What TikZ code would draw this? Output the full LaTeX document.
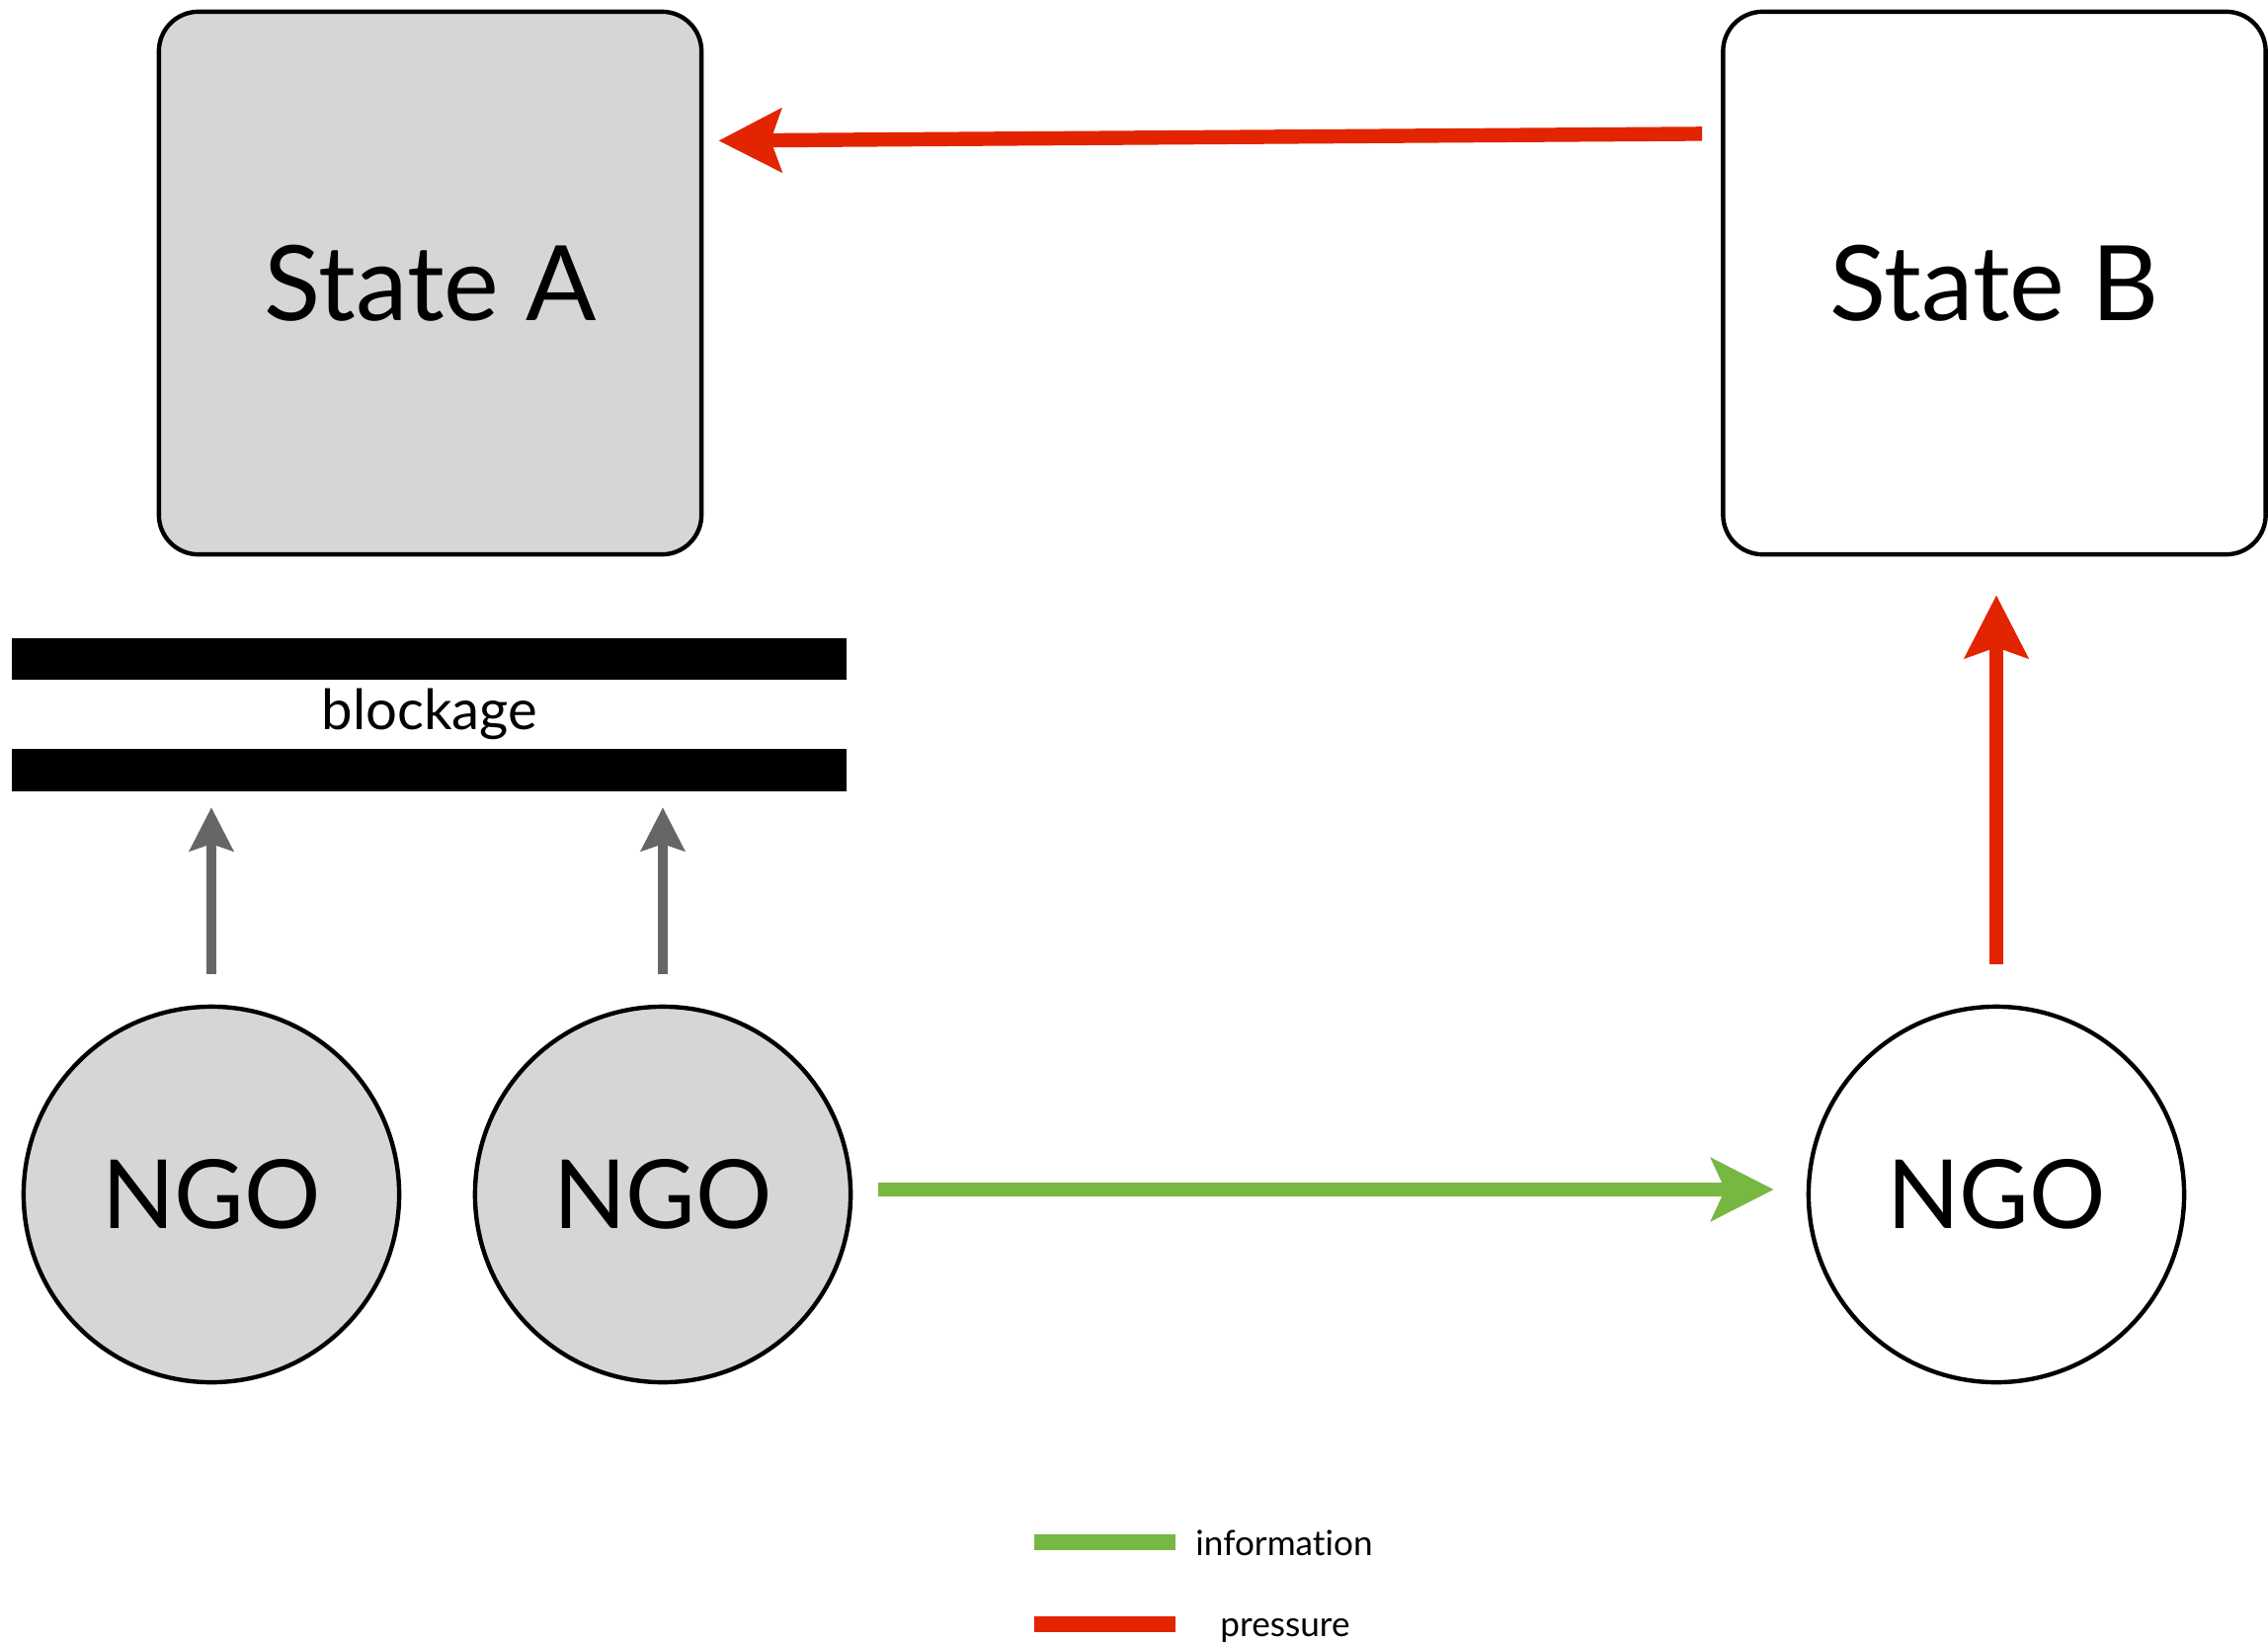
\documentclass[tikz,border=0pt]{standalone}
\usepackage{fontspec}
\setmainfont{Lato}[Ligatures={NoCommon}]
\usetikzlibrary{arrows.meta,positioning}

\definecolor{pressurered}{HTML}{E22400}
\definecolor{infogreen}{HTML}{77B843}
\definecolor{blockgray}{HTML}{666666}
\definecolor{ngofill}{HTML}{D6D6D6}

\tikzset{
    state/.style={draw,line width=1.25pt,rounded corners=0.4cm,
        minimum width=5.49cm,minimum height=5.49cm,font=\fontsize{30}{34}\selectfont},
    ngo/.style={draw,circle,line width=1.25pt,minimum size=3.8cm,inner sep=0pt,
        font=\fontsize{27.5}{30}\selectfont},
    bar/.style={fill=black,minimum width=8.45cm,minimum height=0.42cm,inner sep=0pt},
    pressure/.style={draw=pressurered,line width=4.1pt,
        -{Stealth[length=18pt,width=18pt,inset=3pt]}},
    information/.style={draw=infogreen,line width=4.1pt,
        -{Stealth[length=18pt,width=18pt,inset=4pt]}},
    attempt/.style={draw=blockgray,line width=2.6pt,
        -{Stealth[length=12.5pt,width=12.5pt,inset=2pt]}},
    legendline/.style={line width=4.5pt},
}

\begin{document}
\begin{tikzpicture}[x=0.01cm,y=-0.01cm]
    \useasboundingbox (0,0) rectangle (2296,1663);

    % States:
    \node [state,fill=ngofill] (stateA) at (435.5,286.5) {State A};
    \node [state]              (stateB) at (2019,286.5)  {State B};

    % Blockage in front of state A:
    \node [bar] (barTop) at (434.5,667)   {};
    \node [bar] (barBot) at (434.5,779.5) {};
    \node [font=\fontsize{16}{18}\selectfont] (blockage) at (435,723) {blockage};

    % NGOs:
    \node [ngo,fill=ngofill] (ngoA) at (214,1209)  {NGO};
    \node [ngo,fill=ngofill] (ngoB) at (671,1209)  {NGO};
    \node [ngo]              (ngoC) at (2021,1209) {NGO};

    % Blocked attempts:
    \draw [attempt] ([yshift=0.31cm]ngoA.north) -- ([yshift=-0.16cm]ngoA.north |- barBot.south);
    \draw [attempt] ([yshift=0.31cm]ngoB.north) -- ([yshift=-0.16cm]ngoB.north |- barBot.south);

    % Information and pressure:
    \draw [information] ([shift={(0.26cm,0.05cm)}]ngoB.east) -- ([shift={(-0.33cm,0.05cm)}]ngoC.west);
    \draw [pressure] ([yshift=0.41cm]ngoC.north) -- ([yshift=-0.39cm]ngoC.north |- stateB.south);
    \draw [pressure] ([shift={(-0.19cm,1.51cm)}]stateB.west) -- ([shift={(0.15cm,1.44cm)}]stateA.east);

    % Legend:
    \coordinate (infoL) at (1047,1561);
    \coordinate (infoR) at (1190,1561);
    \coordinate (presL) at (1047,1644);
    \coordinate (presR) at (1190,1644);
    \draw [legendline,infogreen]   (infoL) -- (infoR);
    \draw [legendline,pressurered] (presL) -- (presR);
    \node [font=\fontsize{10}{12}\selectfont] (infoText) at (1300,1562) {information};
    \node [font=\fontsize{10}{12}\selectfont] (presText) at (1301,1650) {pressure};
\end{tikzpicture}
\end{document}
